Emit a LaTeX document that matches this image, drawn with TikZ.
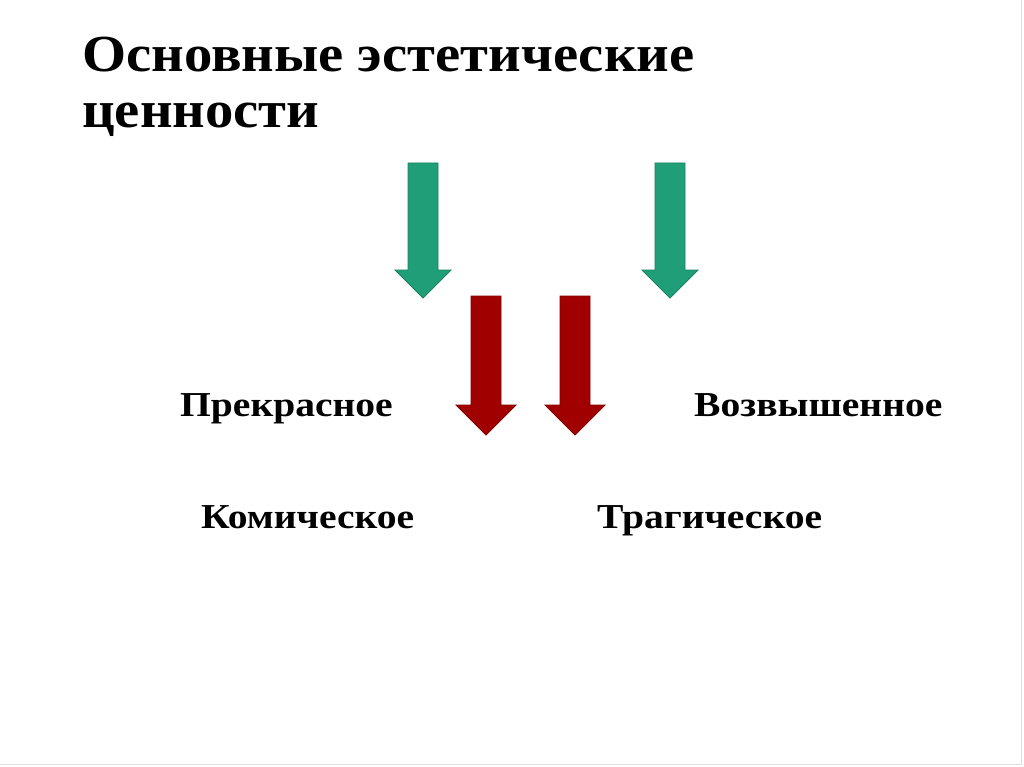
\documentclass[tikz,border=0pt]{standalone}
\usepackage{fontspec}
\setmainfont{Liberation Serif}
\begin{document}
\begin{tikzpicture}[x=1pt,y=-1pt,
  lbl/.style={font=\bfseries\fontsize{35}{40}\selectfont,anchor=base west,inner sep=0,xscale=1.13},
  ttl/.style={font=\bfseries\fontsize{52}{60}\selectfont,anchor=base west,inner sep=0,xscale=1.09},
  garrow/.style={fill={rgb,255:red,32;green,158;blue,120},draw={rgb,255:red,25;green,130;blue,98},line width=0.8},
  rarrow/.style={fill={rgb,255:red,160;green,0;blue,0},draw={rgb,255:red,130;green,0;blue,0},line width=0.8}]
\useasboundingbox (0,0) rectangle (1024,767);
\fill[white] (0,0) rectangle (1024,767);
\draw[black!12] (1021,0) -- (1021,764) -- (0,764);
\node[ttl] (title) at (82,72) {Основные эстетические};
\node[ttl] (title2) at (82,128) {ценности};
\foreach \n/\x in {g1/423,g2/670}{
 \draw[garrow] (\x-15,163) -- (\x+15,163) -- (\x+15,270) -- (\x+28,270) -- (\x,298) -- (\x-28,270) -- (\x-15,270) -- cycle;
 \coordinate (\n) at (\x,298);}
\foreach \n/\x in {r1/486,r2/575}{
 \draw[rarrow] (\x-15,296) -- (\x+15,296) -- (\x+15,405) -- (\x+30,405) -- (\x,435) -- (\x-30,405) -- (\x-15,405) -- cycle;
 \coordinate (\n) at (\x,435);}
\node[lbl] (p) at (180,416) {Прекрасное};
\node[lbl] (v) at (694,416) {Возвышенное};
\node[lbl] (k) at (201,528) {Комическое};
\node[lbl] (t) at (597,528) {Трагическое};
\end{tikzpicture}
\end{document}
